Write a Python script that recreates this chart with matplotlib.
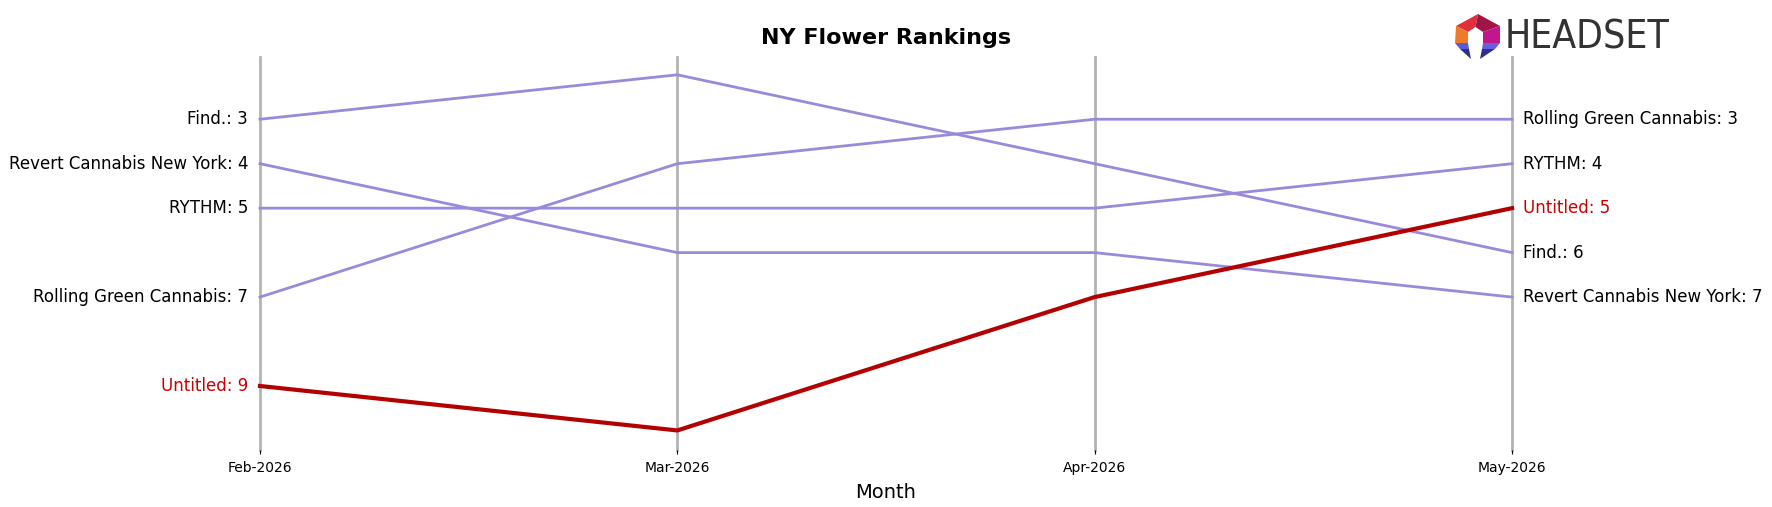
import matplotlib
matplotlib.use("Agg")
import matplotlib.pyplot as plt
from matplotlib.patches import Polygon
import numpy as np

months = ["Feb-2026", "Mar-2026", "Apr-2026", "May-2026"]
brands = ["Find.", "Revert Cannabis New York", "RYTHM", "Rolling Green Cannabis", "Untitled"]
find_ranks = [3, 2, 4, 6]
revert_ranks = [4, 6, 6, 7]
rythm_ranks = [5, 5, 5, 4]
rolling_ranks = [7, 4, 3, 3]
untitled_ranks = [9, 10, 7, 5]
highlight = "Untitled"

PURPLE = "#9b8ad9"
RED = "#b30000"
RED_TEXT = "#cc0000"


def main():
    ranks = [find_ranks, revert_ranks, rythm_ranks, rolling_ranks, untitled_ranks]
    fig = plt.figure(figsize=(17.72, 5.07), dpi=100)
    ax = fig.add_axes([260 / 1772, 1 - 450 / 507, (1512 - 260) / 1772, (450 - 57) / 507])
    x = np.arange(len(months))

    for xi in x:
        ax.axvline(xi, color="#b3b3b3", lw=2, zorder=1, clip_on=False)

    for name, r in zip(brands, ranks):
        hl = name == highlight
        ax.plot(x, r, color=RED if hl else PURPLE, lw=3 if hl else 2, zorder=3 if hl else 2,
                clip_on=False)
        tc = RED_TEXT if hl else "black"
        ax.annotate(f"{name}: {r[0]}", (x[0], r[0]), xytext=(-8.5, 0), textcoords="offset points",
                    ha="right", va="center", fontsize=12, color=tc)
        ax.annotate(f"{name}: {r[-1]}", (x[-1], r[-1]), xytext=(8, 0), textcoords="offset points",
                    ha="left", va="center", fontsize=12, color=tc)

    ax.set_xlim(x[0], x[-1])
    ax.set_ylim(10.44, 1.6)
    ax.set_xticks(x)
    ax.set_xticklabels(months, fontsize=10)
    ax.tick_params(axis="x", length=3, pad=5)
    ax.set_yticks([])
    for s in ax.spines.values():
        s.set_visible(False)
    ax.set_xlabel("Month", fontsize=14, labelpad=6)
    ax.set_title("NY Flower Rankings", fontsize=16, fontweight="bold", pad=9.5)

    drawLogo(fig)
    fig.savefig("out.png", dpi=100)


def drawLogo(fig):
    # logo drawn in full-size pixel coordinates
    x0, x1, y0, y1 = 1448, 1508, 10, 61
    lax = fig.add_axes([x0 / 1772, 1 - y1 / 507, (x1 - x0) / 1772, (y1 - y0) / 507], zorder=5)
    lax.set_xlim(x0, x1)
    lax.set_ylim(y1, y0)
    lax.axis("off")
    lax.add_patch(plt.Rectangle((x0, y0), x1 - x0, y1 - y0, color="white", zorder=0))
    shapes = [
        ([(1456, 26), (1478, 14), (1475.5, 27), (1468, 32)], "#e0303c"),
        ([(1478, 14), (1500, 26), (1483, 32), (1475.5, 27)], "#a01545"),
        ([(1456, 26), (1468, 32), (1468, 43), (1455, 43)], "#f07a2a"),
        ([(1500, 26), (1500, 43), (1483, 43), (1483, 32)], "#c0188c"),
        ([(1455, 43), (1468, 43), (1469, 49), (1460, 49)], "#5a5ad6"),
        ([(1460, 49), (1469, 49), (1471, 59)], "#2d2e8e"),
        ([(1483, 43), (1500, 43), (1495, 49), (1482, 49)], "#6a5ee0"),
        ([(1482, 49), (1495, 49), (1480, 59)], "#2d2e8e"),
    ]
    for pts, c in shapes:
        lax.add_patch(Polygon(pts, color=c, lw=0))
    fig.text(1505 / 1772, 1 - 38 / 507, "HEADSET", fontsize=28, color="#333333",
             family="DejaVu Sans", fontstretch="condensed", va="center", ha="left", zorder=6)


main()
